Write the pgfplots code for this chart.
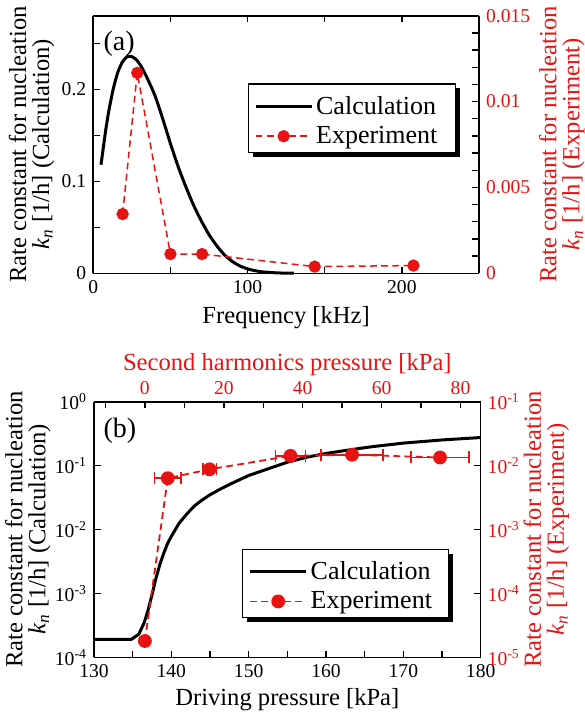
\documentclass[border=0pt]{standalone}
\usepackage{fontspec}
\setmainfont{Liberation Serif}
\usepackage{pgfplots}
\pgfplotsset{compat=1.18}
\usepackage{pgfplotstable}
\definecolor{myred}{RGB}{232,18,18}

\pgfplotstableread{
f v
5 0.118
8 0.155
10 0.176
13 0.201
16 0.219
19 0.230
22 0.2355
25 0.2355
28 0.232
31 0.225
35 0.212
40 0.193
45 0.168
50 0.141
55 0.116
60 0.094
65 0.074
70 0.057
75 0.042
80 0.030
85 0.020
90 0.013
95 0.008
100 0.0048
105 0.0028
110 0.0015
120 0.0004
130 0.0001
}\calcA

\pgfplotstableread{
f v
19 0.00345
28.5 0.01167
50 0.00112
70.5 0.00112
143.5 0.00039
207.5 0.00045
}\expA

\pgfplotstableread{
p v
130 1.9e-4
134.8 1.9e-4
135.8 2.3e-4
136.5 3.5e-4
137 5.5e-4
137.5 9.5e-4
138 1.7e-3
138.5 2.8e-3
139 4.2e-3
139.5 6.0e-3
140 7.8e-3
141 1.25e-2
142 1.75e-2
143 2.35e-2
144 2.9e-2
145 3.5e-2
146.5 4.4e-2
148 5.4e-2
150 7.0e-2
152.5 8.9e-2
155 0.113
157.5 0.135
160 0.155
163 0.176
166 0.198
170 0.225
175 0.252
180 0.275
}\calcB

\pgfplotstableread{
x y ex
0 1.8e-5 0
5.8 6.35e-3 3.4
16.4 8.75e-3 1.7
36.9 1.42e-2 3.8
52.5 1.48e-2 7.9
74.8 1.34e-2 7.3
}\expB

\pgfplotsset{
  common/.style={
    scale only axis,
    axis line style={line width=0.8pt},
    every tick/.style={black, line width=0.7pt},
    major tick length=3.3pt, minor tick length=3.3pt,
    tick align=inside,
    scaled ticks=false,
    tick label style={font=\fontsize{9.8}{10}\selectfont},
    label style={font=\fontsize{12.3}{11.5}\selectfont},
    clip=false,
  },
  mylegend/.style={
    legend style={draw=none, fill=none,
      font=\fontsize{13}{14}\selectfont, inner xsep=0pt, inner ysep=0pt,
      nodes={inner xsep=1.5pt, inner ysep=1.5pt},
      row sep=1.4pt},
    legend cell align=left,
    legend image code/.code={\draw[mark repeat=2,mark phase=2,##1] plot coordinates {(0pt,0pt)(14pt,0pt)(28pt,0pt)};},
  },
  calcstyle/.style={black, line width=1.5pt, no marks},
  expstyle/.style={myred, line width=0.75pt, dash pattern=on 3.4pt off 2.2pt,
      mark=*, mark size=2.7pt, mark options={solid, fill=myred, draw=myred}},
}

\begin{document}
\begin{tikzpicture}
\path[use as bounding box] (0,0) rectangle (292.5pt,360pt);

% ---------- Panel (a), left axis ----------
\begin{axis}[common,
  at={(46.65pt,223.35pt)}, anchor=south west,
  width=192.85pt, height=128.8pt,
  xmin=0, xmax=250, ymin=0, ymax=0.28,
  axis y line*=left,
  xtick={0,50,100,150,200,250}, xticklabels={0,,100,,200,},
  ytick={0,0.1,0.2}, yticklabels={0,0.1,0.2},
  minor ytick={0.05,0.15,0.25},
  xlabel={Frequency [kHz]},
  xlabel style={at={(axis description cs:0.5,-0.194)}, anchor=base},
  ylabel={Rate constant for nucleation\\\textit{k}\textsubscript{\textit{n}} [1/h] (Calculation)},
  ylabel style={align=center, at={(axis description cs:-0.160,0.5)}, anchor=center},
]
\addplot[calcstyle, smooth, tension=0.4] table[x=f,y=v] {\calcA};
\node[font=\fontsize{14}{14}\selectfont] at (rel axis cs:0.067,0.89) {(a)};
\end{axis}

% ---------- Panel (a), right axis ----------
\begin{axis}[common, mylegend,
  at={(46.65pt,223.35pt)}, anchor=south west,
  width=192.85pt, height=128.8pt,
  xmin=0, xmax=250, ymin=0, ymax=0.015,
  axis x line=none, axis y line*=right,
  ytick={0,0.005,0.01,0.015}, yticklabels={0,0.005,0.01,0.015},
  minor ytick={0.001,0.002,0.003,0.004,0.006,0.007,0.008,0.009,0.011,0.012,0.013,0.014},
  yticklabel style={text=myred},
  ylabel={Rate constant for nucleation\\\textit{k}\textsubscript{\textit{n}} [1/h] (Experiment)},
  ylabel style={align=center, text=myred, at={(axis description cs:1.215,0.5)}, anchor=center, rotate=0},
  legend style={at={(0.416,0.590)}, anchor=west},
]
% legend frame with drop shadow
\fill[black] ([shift={(2.2pt,-2.2pt)}]rel axis cs:0.402,0.468) rectangle ([shift={(2.2pt,-2.2pt)}]rel axis cs:0.940,0.735);
\filldraw[fill=white, draw=black, line width=0.6pt] (rel axis cs:0.402,0.468) rectangle (rel axis cs:0.940,0.735);
\addlegendimage{calcstyle}
\addlegendentry{Calculation}
\addplot[expstyle] table[x=f,y=v] {\expA};
\addlegendentry{Experiment}
\end{axis}

% ---------- Panel (b), left axis ----------
\begin{axis}[common,
  at={(47pt,31.35pt)}, anchor=south west,
  width=193.35pt, height=127.8pt,
  xmin=130, xmax=180, ymode=log, ymin=1e-4, ymax=1,
  axis x line*=bottom, axis y line*=left,
  xtick={130,135,140,145,150,155,160,165,170,175,180},
  xticklabels={130,,140,,150,,160,,170,,180},
  ytick={1e-4,1e-3,1e-2,1e-1,1},
  yticklabels={10\textsuperscript{-4},10\textsuperscript{-3},10\textsuperscript{-2},10\textsuperscript{-1},10\textsuperscript{0}},
  yminorticks=false,
  xlabel={Driving pressure [kPa]},
  xlabel style={at={(axis description cs:0.5,-0.19)}, anchor=base},
  ylabel={Rate constant for nucleation\\\textit{k}\textsubscript{\textit{n}} [1/h] (Calculation)},
  ylabel style={align=center, at={(axis description cs:-0.171,0.5)}, anchor=center},
]
\addplot[calcstyle] table[x=p,y=v] {\calcB};
\node[font=\fontsize{14}{14}\selectfont] at (rel axis cs:0.067,0.887) {(b)};
\end{axis}

% ---------- Panel (b), right/top axis ----------
\begin{axis}[common, mylegend,
  at={(47pt,31.35pt)}, anchor=south west,
  width=193.35pt, height=127.8pt,
  xmin=-12.9, xmax=85.1, ymode=log, ymin=1e-5, ymax=1e-1,
  axis x line*=top, axis y line*=right,
  xtick={-10,0,10,20,30,40,50,60,70,80},
  xticklabels={,0,,20,,40,,60,,80},
  xticklabel style={text=myred},
  ytick={1e-5,1e-4,1e-3,1e-2,1e-1},
  yticklabels={10\textsuperscript{-5},10\textsuperscript{-4},10\textsuperscript{-3},10\textsuperscript{-2},10\textsuperscript{-1}},
  yticklabel style={text=myred},
  yminorticks=false,
  xlabel={Second harmonics pressure [kPa]},
  xlabel style={text=myred, at={(axis description cs:0.5,1.124)}, anchor=base},
  ylabel={Rate constant for nucleation\\\textit{k}\textsubscript{\textit{n}} [1/h] (Experiment)},
  ylabel style={align=center, text=myred, at={(axis description cs:1.170,0.5)}, anchor=center, rotate=0},
  legend style={at={(0.399,0.277)}, anchor=west},
]
\fill[black] ([shift={(2.2pt,-2.2pt)}]rel axis cs:0.385,0.156) rectangle ([shift={(2.2pt,-2.2pt)}]rel axis cs:0.916,0.422);
\filldraw[fill=white, draw=black, line width=0.6pt] (rel axis cs:0.385,0.156) rectangle (rel axis cs:0.916,0.422);
\addlegendimage{calcstyle}
\addlegendentry{Calculation}
\addplot[expstyle, line width=0.9pt, mark size=3pt,
  error bars/.cd, x dir=both, x explicit,
  error bar style={solid, line width=0.8pt, myred},
  error mark options={solid, myred, line width=0.8pt, mark size=3pt, rotate=90}]
  table[x=x,y=y,x error=ex] {\expB};
\addlegendentry{Experiment}
\end{axis}
\end{tikzpicture}
\end{document}
